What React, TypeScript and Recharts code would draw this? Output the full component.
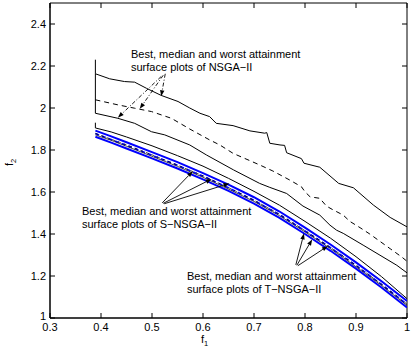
import React from 'react';
import { LineChart, Line, XAxis, YAxis, ReferenceLine, ReferenceArea } from 'recharts';

// NSGA-II attainment surfaces
const nsgaWorstX = [0.389, 0.389, 0.417, 0.446, 0.466, 0.489, 0.518, 0.551, 0.574, 0.594, 0.613, 0.626, 0.659, 0.692, 0.721, 0.725, 0.731, 0.751, 0.76, 0.764, 0.793, 0.798, 0.829, 0.866, 0.895, 0.934, 0.967, 1.0];
const nsgaWorstY = [2.23, 2.163, 2.139, 2.126, 2.123, 2.094, 2.06, 2.031, 2.0, 1.975, 1.959, 1.927, 1.916, 1.891, 1.88, 1.883, 1.832, 1.824, 1.822, 1.787, 1.759, 1.737, 1.718, 1.641, 1.62, 1.538, 1.479, 1.434];

const nsgaMedianX = [0.389, 0.433, 0.466, 0.499, 0.538, 0.574, 0.613, 0.633, 0.659, 0.711, 0.737, 0.77, 0.793, 0.8, 0.81, 0.829, 0.842, 0.855, 0.875, 0.888, 0.908, 0.927, 0.967, 0.99, 1.0];
const nsgaMedianY = [2.039, 2.015, 1.999, 1.983, 1.951, 1.9, 1.848, 1.824, 1.784, 1.729, 1.7, 1.657, 1.625, 1.601, 1.577, 1.57, 1.533, 1.515, 1.49, 1.46, 1.43, 1.4, 1.33, 1.29, 1.27];

const nsgaBestX = [0.389, 0.389, 0.433, 0.466, 0.499, 0.525, 0.574, 0.607, 0.66, 0.711, 0.731, 0.764, 0.796, 0.829, 0.849, 0.862, 0.875, 0.914, 0.947, 0.98, 1.0];
const nsgaBestY = [2.163, 1.975, 1.951, 1.927, 1.887, 1.872, 1.824, 1.776, 1.705, 1.641, 1.622, 1.593, 1.533, 1.49, 1.442, 1.418, 1.403, 1.347, 1.299, 1.251, 1.215];

// S-NSGA-II (black) and T-NSGA-II (blue) surfaces
const bandX = [0.389, 0.42, 0.45, 0.5, 0.55, 0.6, 0.65, 0.7, 0.75, 0.8, 0.85, 0.9, 0.95, 1.0];
const sWorstX = [0.389, 0.389, 0.42, 0.45, 0.5, 0.55, 0.6, 0.65, 0.7, 0.75, 0.8, 0.85, 0.9, 0.95, 1.0];
const sWorstY = [1.93, 1.905, 1.886, 1.862, 1.82, 1.773, 1.723, 1.665, 1.603, 1.537, 1.46, 1.38, 1.292, 1.197, 1.092];
const sMedianY = [1.879, 1.851, 1.825, 1.777, 1.728, 1.677, 1.621, 1.561, 1.494, 1.416, 1.336, 1.251, 1.161, 1.066];
const sBestY = [1.872, 1.846, 1.818, 1.77, 1.722, 1.67, 1.614, 1.555, 1.487, 1.41, 1.33, 1.244, 1.155, 1.06];
const tWorstY = [1.892, 1.865, 1.837, 1.79, 1.742, 1.69, 1.635, 1.575, 1.507, 1.43, 1.35, 1.265, 1.175, 1.081];
const tMedianY = [1.878, 1.85, 1.822, 1.775, 1.727, 1.675, 1.62, 1.56, 1.492, 1.415, 1.335, 1.25, 1.16, 1.065];
const tBestY = [1.863, 1.835, 1.807, 1.76, 1.712, 1.66, 1.605, 1.545, 1.477, 1.4, 1.32, 1.235, 1.145, 1.05];

// annotation arrows: [fromX, fromY, toX, toY]
const nsgaArrows = [
  [0.526, 2.163, 0.518, 2.056],
  [0.522, 2.156, 0.476, 1.996],
  [0.518, 2.15, 0.433, 1.954],
];
const sArrows = [
  [0.52, 1.548, 0.58, 1.699],
  [0.522, 1.546, 0.617, 1.662],
  [0.524, 1.544, 0.652, 1.641],
];
const tArrows = [
  [0.782, 1.253, 0.798, 1.403],
  [0.784, 1.251, 0.814, 1.374],
  [0.786, 1.249, 0.845, 1.343],
];

const xTicks = [0.3, 0.4, 0.5, 0.6, 0.7, 0.8, 0.9, 1];
const yTicks = [1, 1.2, 1.4, 1.6, 1.8, 2, 2.2, 2.4];

const W = 411;
const H = 347;
const PLOT = { left: 50, right: 407, top: 3, bottom: 318 };
const FONT = '"Liberation Sans", Arial, Helvetica, sans-serif';

const pts = (xs: number[], ys: number[]) => xs.map((x, i) => ({ x, y: ys[i] }));

const XTick = (props: any) => {
  const { x, payload } = props;
  return (
    <g>
      <line x1={x} y1={PLOT.bottom} x2={x} y2={PLOT.bottom - 5} stroke="#000" />
      <line x1={x} y1={PLOT.top} x2={x} y2={PLOT.top + 5} stroke="#000" />
      <text x={x} y={PLOT.bottom + 13} textAnchor="middle" fontSize={11} fontFamily={FONT} fill="#000">
        {String(payload.value)}
      </text>
    </g>
  );
};

const YTick = (props: any) => {
  const { y, payload } = props;
  // the bottom label sits a little higher, clear of the x labels
  const dy = payload.value === 1 ? 1.5 : 3.5;
  return (
    <g>
      <line x1={PLOT.left} y1={y} x2={PLOT.left + 5} y2={y} stroke="#000" />
      <line x1={PLOT.right} y1={y} x2={PLOT.right - 5} y2={y} stroke="#000" />
      <text x={PLOT.left - 4} y={y + dy} textAnchor="end" fontSize={11} fontFamily={FONT} fill="#000">
        {String(payload.value)}
      </text>
    </g>
  );
};

const arrowShape = (dash?: string) => (props: any) => {
  const { x1, y1, x2, y2 } = props;
  const dx = x2 - x1;
  const dy = y2 - y1;
  const len = Math.sqrt(dx * dx + dy * dy) || 1;
  const ux = dx / len;
  const uy = dy / len;
  const hl = 6;
  const hw = 2.2;
  const bx = x2 - ux * hl;
  const by = y2 - uy * hl;
  const head = `${x2},${y2} ${bx - uy * hw},${by + ux * hw} ${bx + uy * hw},${by - ux * hw}`;
  return (
    <g>
      <line x1={x1} y1={y1} x2={bx} y2={by} stroke="#000" strokeWidth={0.9} strokeDasharray={dash} />
      <polygon points={head} fill="#000" />
    </g>
  );
};

const textStyle: React.CSSProperties = {
  position: 'absolute',
  fontFamily: FONT,
  fontSize: 11,
  lineHeight: '13px',
  color: '#000',
  whiteSpace: 'nowrap',
};

const App: React.FC = () => {
  const arrows = (list: number[][], key: string, dash?: string) =>
    list.map((a, i) => (
      <ReferenceLine
        key={key + i}
        segment={[{ x: a[0], y: a[1] }, { x: a[2], y: a[3] }]}
        shape={arrowShape(dash)}
        ifOverflow="visible"
      />
    ));

  return (
    <div style={{ position: 'absolute', left: 0, top: 0, width: W, height: H, background: '#fff' }}>
      <LineChart width={W} height={H} margin={{ top: 3, right: 4, bottom: 0, left: 0 }}>
        <XAxis
          dataKey="x"
          type="number"
          domain={[0.3, 1]}
          ticks={xTicks}
          allowDataOverflow
          tickLine={false}
          tickSize={0}
          tickMargin={0}
          height={29}
          axisLine={{ stroke: '#000' }}
          tick={<XTick />}
        />
        <YAxis
          dataKey="y"
          type="number"
          domain={[1, 2.5]}
          ticks={yTicks}
          allowDataOverflow
          tickLine={false}
          tickSize={0}
          tickMargin={0}
          width={50}
          axisLine={{ stroke: '#000' }}
          tick={<YTick />}
        />
        <ReferenceArea x1={0.3} x2={1} y1={1} y2={2.5} fill="none" stroke="#000" strokeWidth={1} ifOverflow="visible" />

        <Line data={pts(nsgaWorstX, nsgaWorstY)} dataKey="y" type="linear" dot={false} stroke="#000" strokeWidth={1} isAnimationActive={false} />
        <Line data={pts(nsgaMedianX, nsgaMedianY)} dataKey="y" type="linear" dot={false} stroke="#000" strokeWidth={1} strokeDasharray="5 4" isAnimationActive={false} />
        <Line data={pts(nsgaBestX, nsgaBestY)} dataKey="y" type="linear" dot={false} stroke="#000" strokeWidth={1} isAnimationActive={false} />

        <Line data={pts(sWorstX, sWorstY)} dataKey="y" type="linear" dot={false} stroke="#000" strokeWidth={1} isAnimationActive={false} />
        <Line data={pts(bandX, tWorstY)} dataKey="y" type="linear" dot={false} stroke="#0000ff" strokeWidth={2} isAnimationActive={false} />
        <Line data={pts(bandX, tBestY)} dataKey="y" type="linear" dot={false} stroke="#0000ff" strokeWidth={2} isAnimationActive={false} />
        <Line data={pts(bandX, tMedianY)} dataKey="y" type="linear" dot={false} stroke="#0000ff" strokeWidth={1.6} strokeDasharray="4 3" isAnimationActive={false} />
        <Line data={pts(bandX, sBestY)} dataKey="y" type="linear" dot={false} stroke="#000" strokeWidth={0.7} isAnimationActive={false} />
        <Line data={pts(bandX, sMedianY)} dataKey="y" type="linear" dot={false} stroke="#000" strokeWidth={0.7} strokeDasharray="3 3" isAnimationActive={false} />

        {arrows(nsgaArrows, 'n', '4 2 1 2')}
        {arrows(sArrows, 's')}
        {arrows(tArrows, 't')}
      </LineChart>

      <div style={{ ...textStyle, left: 131, top: 48 }}>
        Best, median and worst attainment
        <br />
        surface plots of NSGA−II
      </div>
      <div style={{ ...textStyle, left: 82, top: 205 }}>
        Best, median and worst attainment
        <br />
        surface plots of S−NSGA−II
      </div>
      <div style={{ ...textStyle, left: 187, top: 270 }}>
        Best, median and worst attainment
        <br />
        surface plots of T−NSGA−II
      </div>

      <svg width={W} height={H} style={{ position: 'absolute', left: 0, top: 0, pointerEvents: 'none' }}>
        <text x={201} y={343} fontSize={11} fontFamily={FONT} fill="#000">
          f<tspan fontSize={7.5} dy={2.5}>1</tspan>
        </text>
        <text transform="translate(13,166) rotate(-90)" fontSize={11} fontFamily={FONT} fill="#000">
          f<tspan fontSize={7.5} dy={2.5}>2</tspan>
        </text>
      </svg>
    </div>
  );
};

export default App;
